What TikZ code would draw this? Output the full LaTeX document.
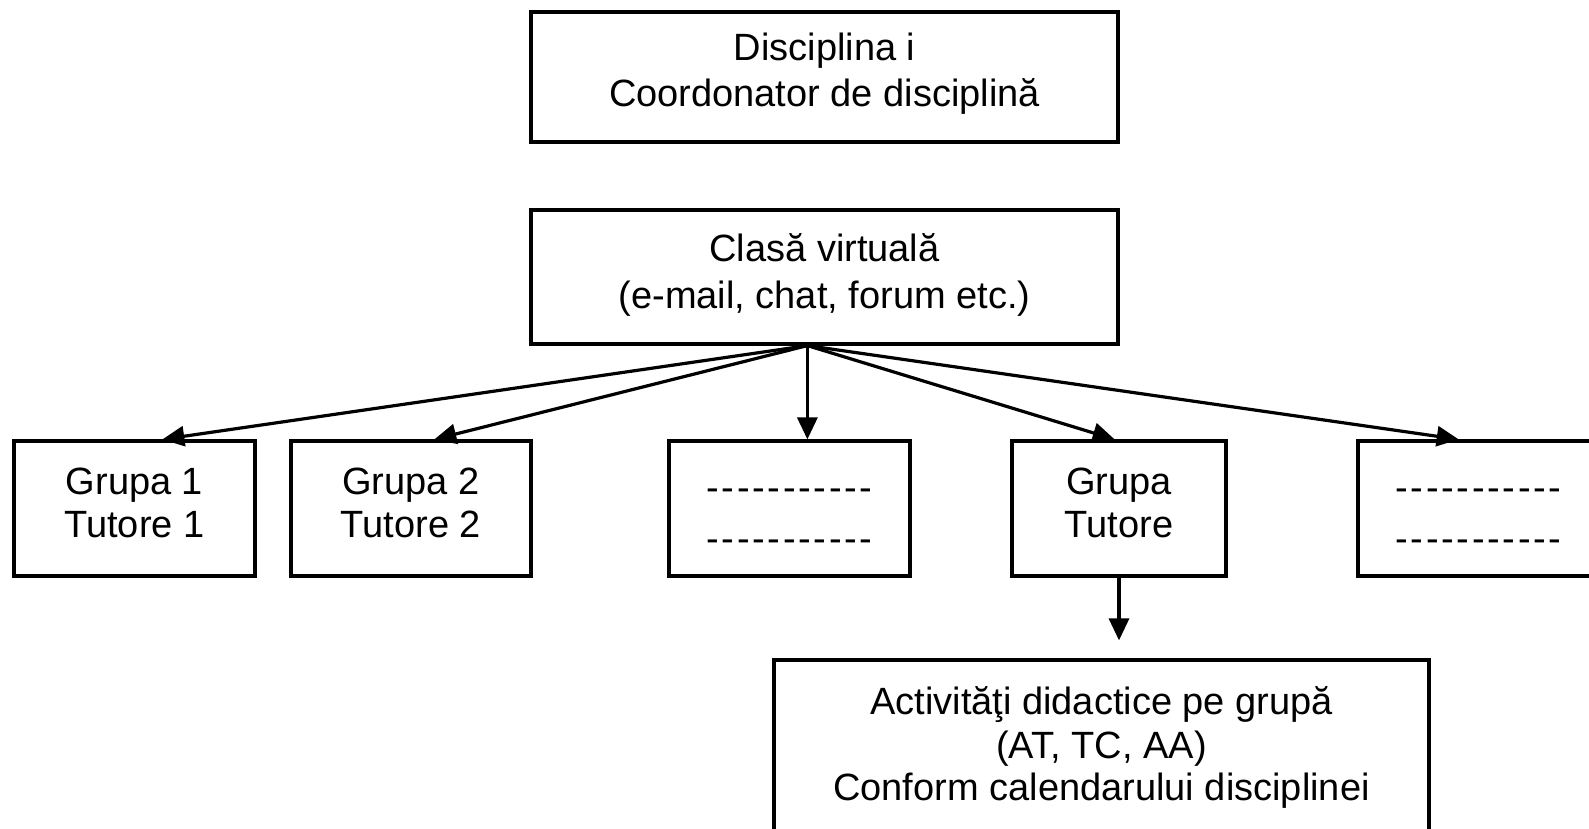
\documentclass[tikz,border=0pt]{standalone}
\usepackage{fontspec}
\setmainfont{Liberation Sans}
\usetikzlibrary{arrows.meta,fit,calc}
\newcommand\dashrow{-\kern1.32pt-\kern1.32pt-\kern1.32pt-\kern1.32pt-\kern1.32pt-\kern1.32pt-\kern1.32pt-\kern1.32pt-\kern1.32pt-\kern1.32pt-}
\begin{document}
\begin{tikzpicture}[x=0.5pt,y=-0.5pt,
  box/.style={draw=black,line width=1.6pt,inner sep=0pt,fit={#1}},
  txt/.style={anchor=base,inner sep=0pt,font=\fontsize{19}{22}\selectfont},
  arr/.style={draw=black,line width=1.6pt,-{Triangle[length=11pt,width=10pt]}}]
\useasboundingbox[fill=white] (0,0) rectangle (1589,829);
% boxes
\node[box={(531,12)(1118,142)}] (disc) {};
\node[box={(531,210)(1118,344)}] (cv) {};
\node[box={(14,441)(255,576)}] (g1) {};
\node[box={(291,441)(531,576)}] (g2) {};
\node[box={(669,441)(910,576)}] (g3) {};
\node[box={(1012,441)(1226,576)}] (gt) {};
\node[box={(1358,441)(1599,576)}] (g5) {};
\node[box={(774,660)(1429,850)}] (act) {};
% texts
\node[txt] (disca) at (824.5,61) {Disciplina i};
\node[txt] (discb) at (824.5,106) {Coordonator de disciplină};
\node[txt] (cva) at (824.5,261) {Clasă virtuală};
\node[txt] (cvb) at (824.5,308) {(e-mail, chat, forum etc.)};
\node[txt] (g1a) at (134.5,494) {Grupa 1};
\node[txt] (g1b) at (134.5,537) {Tutore 1};
\node[txt] (g2a) at (411,494) {Grupa 2};
\node[txt] (g2b) at (411,537) {Tutore 2};
\node[txt] (g3a) at (789.5,500) {\dashrow};
\node[txt] (g3b) at (789.5,551) {\dashrow};
\node[txt] (gta) at (1119,494) {Grupa};
\node[txt] (gtb) at (1119,537) {Tutore};
\node[txt] (g5a) at (1478.5,500) {\dashrow};
\node[txt] (g5b) at (1478.5,551) {\dashrow};
\node[txt] (acta) at (1101.5,714) {Activităţi didactice pe grupă};
\node[txt] (actb) at (1101.5,758) {(AT, TC, AA)};
\node[txt] (actc) at (1101.5,800) {Conform calendarului disciplinei};
% connectors
\coordinate (fan) at ($(cv.south west)!0.471!(cv.south east)$);
\draw[arr] (fan) -- ($(g1.north west)!0.614!(g1.north east)$);
\draw[arr] (fan) -- ($(g2.north west)!0.596!(g2.north east)$);
\draw[arr] (fan) -- (fan |- g3.north);
\draw[arr] (fan) -- ($(gt.north west)!0.48!(gt.north east)$);
\draw[arr] (fan) -- ($(g5.north west)!0.419!(g5.north east)$);
\draw[arr,shorten >=9pt] (gt.south) -- (gt.south |- act.north);
\end{tikzpicture}
\end{document}
